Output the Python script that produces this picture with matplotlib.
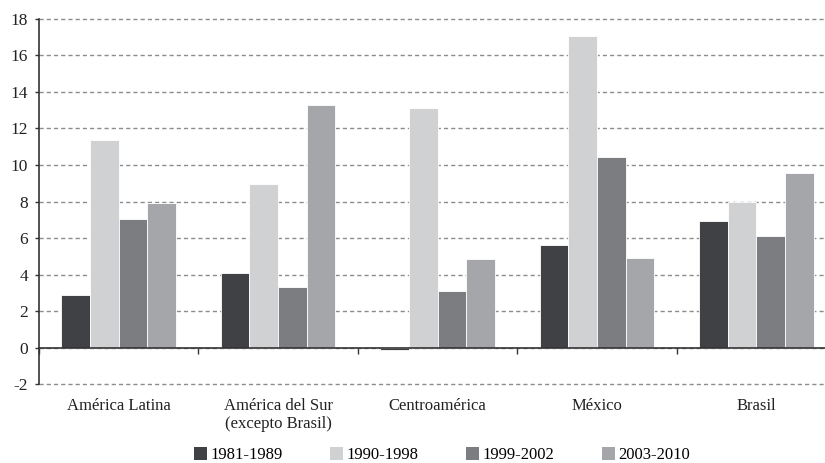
import matplotlib
matplotlib.use("Agg")
import matplotlib.pyplot as plt
import numpy as np
from matplotlib.patches import Patch

categories = ["América Latina", "América del Sur\n(excepto Brasil)", "Centroamérica", "México", "Brasil"]
series_names = ["1981-1989", "1990-1998", "1999-2002", "2003-2010"]
s1981 = [2.9, 4.08, -0.15, 5.62, 6.95]
s1990 = [11.38, 8.97, 13.11, 17.07, 8.0]
s1999 = [7.04, 3.30, 3.10, 10.41, 6.09]
s2003 = [7.91, 13.29, 4.83, 4.92, 9.55]
series = [s1981, s1990, s1999, s2003]
colors = ["#404144", "#d0d1d3", "#7c7d81", "#a5a6a9"]
yticks = list(range(-2, 19, 2))

plt.rcParams['font.family'] = ['Liberation Serif', 'DejaVu Serif']
fig = plt.figure(figsize=(8.25, 4.63), dpi=100)
ax = fig.add_axes([39/825, 1-386/463, (836-39)/825, (386-17)/463])

n = len(categories)
x = np.arange(n)
w = 0.18
for i, (vals, c, name) in enumerate(zip(series, colors, series_names)):
    ax.bar(x + (i-1.5)*w, vals, width=w, color=c, edgecolor="white", linewidth=0.6, label=name, zorder=3)

ax.set_xlim(-0.5, n-0.5)
ax.set_ylim(-2.1, 18.1)
ax.set_yticks(yticks)
ax.set_yticklabels([str(t) for t in yticks], fontsize=12.5, color="#222222")
ax.yaxis.grid(True, color="#8c8c8c", linestyle=(0, (3, 2.2)), linewidth=1.0, zorder=0)
ax.set_axisbelow(True)

for s in ["top", "right"]:
    ax.spines[s].set_visible(False)
ax.spines["left"].set_color("#333333")
ax.spines["left"].set_linewidth(1.2)
ax.spines["left"].set_bounds(-2, 18)
ax.spines["bottom"].set_position(("data", 0))
ax.spines["bottom"].set_color("#333333")
ax.spines["bottom"].set_linewidth(1.2)
ax.spines["bottom"].set_zorder(4)
ax.tick_params(axis="y", length=3, width=1, color="#333333", pad=5)
ax.set_xticks(x)
ax.set_xticklabels([])
ax.tick_params(axis="x", which="major", length=0)
ax.set_xticks(np.arange(n+1) - 0.5, minor=True)
ax.tick_params(axis="x", which="minor", length=4, width=1, color="#333333", direction="out")

for i, lab in enumerate(categories):
    ax.text(i, -2.75, lab, ha="center", va="top", fontsize=12, color="#222222", linespacing=1.15)

handles = [Patch(facecolor=c, edgecolor="none") for c in colors]
fig.legend(handles, series_names, loc="center", bbox_to_anchor=(442/825, 1-455/463), ncol=4,
           frameon=False, fontsize=12, handlelength=0.8, handleheight=0.8, handletextpad=0.2,
           columnspacing=2.85)

fig.savefig("out.png", dpi=100)
